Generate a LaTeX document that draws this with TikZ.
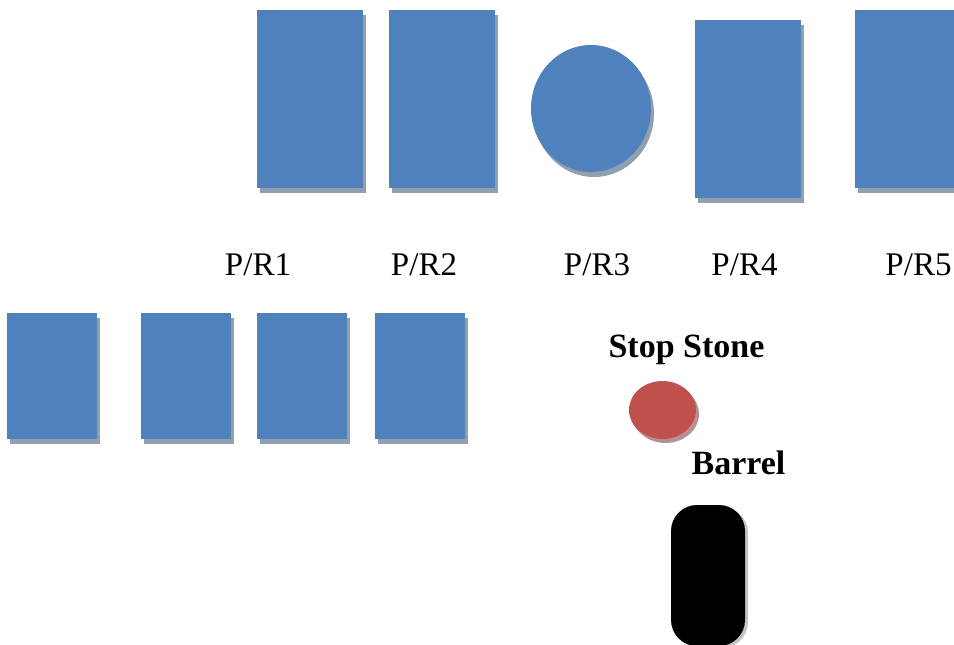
\documentclass[tikz,border=0pt]{standalone}
\usepackage{fontspec}
\setmainfont{Liberation Serif}
\usetikzlibrary{shapes.geometric,shadows}
\definecolor{plateblue}{HTML}{4F81BD}
\definecolor{plateshadow}{HTML}{919FAF}
\definecolor{stonered}{HTML}{C0504D}
\definecolor{stoneshadow}{HTML}{B59193}
\definecolor{barrelshadow}{HTML}{C4C4C4}
\tikzset{
  plate/.style={rectangle, fill=plateblue, draw=none, inner sep=0pt, outer sep=0pt,
    drop shadow={shadow xshift=3pt, shadow yshift=-5pt, fill=plateshadow, opacity=1}},
  roundplate/.style={ellipse, fill=plateblue, draw=none, inner sep=0pt, outer sep=0pt,
    drop shadow={shadow xshift=3pt, shadow yshift=-5pt, fill=plateshadow, opacity=1}},
  stone/.style={ellipse, fill=stonered, draw=none, inner sep=0pt,
    minimum width=67pt, minimum height=58pt,
    drop shadow={shadow xshift=3pt, shadow yshift=-4pt, fill=stoneshadow, opacity=1}},
  barrel/.style={rectangle, rounded corners=26pt, fill=black, draw=none, inner sep=0pt,
    minimum width=74pt, minimum height=141pt,
    drop shadow={shadow xshift=3pt, shadow yshift=-2pt, fill=barrelshadow, opacity=1}},
  lbl/.style={anchor=base, inner sep=0pt, font=\fontsize{33}{40}\selectfont},
  blbl/.style={lbl, font=\fontsize{34}{41}\selectfont\bfseries},
}
\begin{document}
\begin{tikzpicture}[x=1pt,y=1pt]
\useasboundingbox (0,0) rectangle (954,-645);
% top row of plates
\node[plate, minimum width=106pt, minimum height=178pt] (r1) at (310,-99) {};
\node[plate, minimum width=106pt, minimum height=178pt] (r2) at (442,-99) {};
\node[roundplate, minimum width=120pt, minimum height=127pt] (r3) at (591,-108.5) {};
\node[plate, minimum width=106pt, minimum height=178pt] (r4) at (748,-109) {};
\node[plate, minimum width=104pt, minimum height=178pt] (r5) at (907,-99) {};
% plate labels
\node[lbl] (l1) at (258,-275) {P/R1};
\node[lbl] (l2) at (424,-275) {P/R2};
\node[lbl] (l3) at (597,-275) {P/R3};
\node[lbl] (l4) at (744.5,-275) {P/R4};
\node[lbl] (l5) at (918.5,-275) {P/R5};
% lower row of plates
\node[plate, minimum width=90pt, minimum height=126pt] (b1) at (52,-376) {};
\node[plate, minimum width=90pt, minimum height=126pt] (b2) at (186,-376) {};
\node[plate, minimum width=90pt, minimum height=126pt] (b3) at (302,-376) {};
\node[plate, minimum width=90pt, minimum height=126pt] (b4) at (420,-376) {};
% stop stone and barrel
\node[blbl] (stoplbl) at (686.5,-357) {Stop Stone};
\node[stone] (stone) at (662.5,-410) {};
\node[blbl] (barrellbl) at (738.5,-474) {Barrel};
\node[barrel] (barrel) at (708,-575.5) {};
\end{tikzpicture}
\end{document}
